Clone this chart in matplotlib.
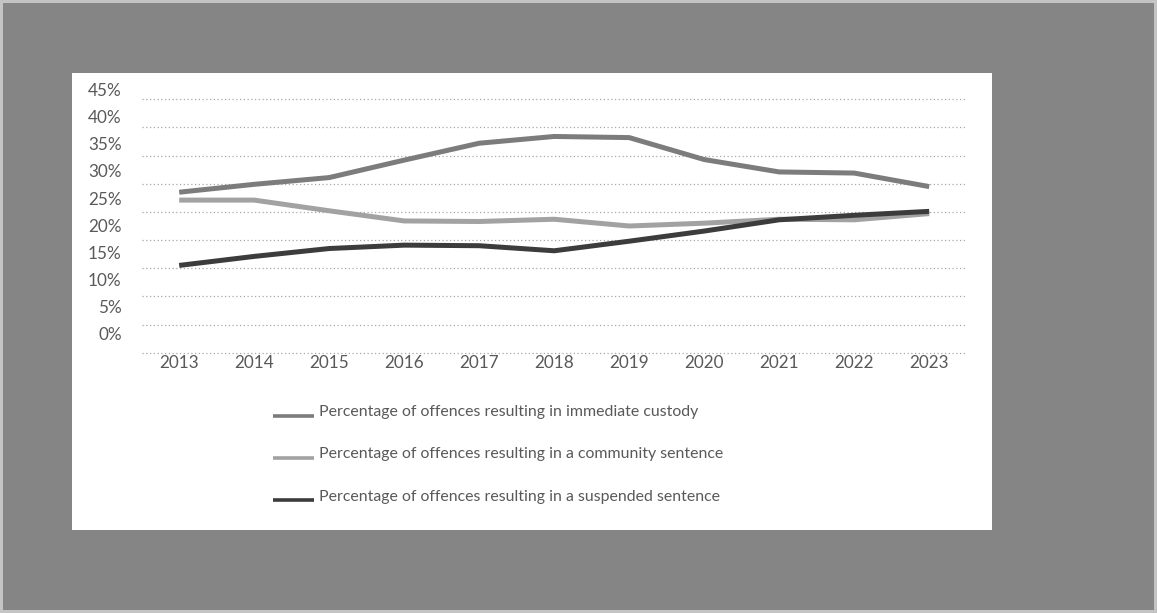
#!/usr/bin/env python3
# coding: utf-8

import matplotlib
matplotlib.use("Agg")
import matplotlib.pyplot as plt
import matplotlib.transforms as mtrans
from matplotlib.patches import Rectangle

years = ["2013", "2014", "2015", "2016", "2017", "2018",
         "2019", "2020", "2021", "2022", "2023"]
# percentages
custody = [28.5, 29.9, 31.1, 34.2, 37.2, 38.4, 38.2, 34.3, 32.1, 31.9, 29.5]
community = [27.1, 27.1, 25.2, 23.4, 23.3, 23.7, 22.5, 23.0, 23.7, 23.6, 24.7]
suspended = [15.5, 17.1, 18.5, 19.1, 19.0, 18.1, 19.8, 21.6, 23.6, 24.4, 25.1]

names = ["Percentage of offences resulting in immediate custody",
         "Percentage of offences resulting in a community sentence",
         "Percentage of offences resulting in a suspended sentence"]
y_ticks = [0, 5, 10, 15, 20, 25, 30, 35, 40, 45]
y_labels = ["0%", "5%", "10%", "15%", "20%", "25%", "30%", "35%", "40%", "45%"]

plt.rcParams['font.family'] = ['Lato', 'DejaVu Sans']

W, H = 1157, 613
fig = plt.figure(figsize=(W/100, H/100), dpi=100)
fig.patch.set_facecolor('#858585')
fig.patch.set_edgecolor('#c4c4c4')
fig.patch.set_linewidth(3)

# white chart panel on the grey page
fig.add_artist(Rectangle((72/W, 83/H), 920/W, 457/H, transform=fig.transFigure,
                         facecolor='white', edgecolor='none', zorder=0))

ax = fig.add_axes([141.7/W, 1-352.7/H, 825/W, 253.4/H])
ax.set_facecolor('none')

x = range(len(years))
ax.plot(x, custody, color='#7c7c7c', lw=3.6, label=names[0], solid_capstyle='butt')
ax.plot(x, community, color='#a2a2a2', lw=3.6, label=names[1], solid_capstyle='butt')
ax.plot(x, suspended, color='#3c3c3c', lw=3.6, label=names[2], solid_capstyle='butt')

ax.set_xlim(-0.5, len(years)-0.5)
ax.set_ylim(0, 45)
ax.set_xticks(list(x))
ax.set_xticklabels(years)
ax.set_yticks(y_ticks)
ax.set_yticklabels(y_labels)
ax.grid(axis='y', color='#a8a8a8', lw=0.9, ls=(0, (1, 2)))
for gl in ax.get_ygridlines():
    gl.set_clip_on(False)
ax.set_axisbelow(True)
for s in ax.spines.values():
    s.set_visible(False)
ax.tick_params(length=0, labelsize=12.3, labelcolor='#595959')
ax.tick_params(axis='x', pad=2)
ax.tick_params(axis='y', pad=14.4)

# in the original the % labels sit a bit above their gridlines
for v, lab in zip(y_ticks, ax.yaxis.get_majorticklabels()):
    dy = (10 + (45 - v)/45*8.7)/100
    lab.set_transform(lab.get_transform() + mtrans.ScaledTranslation(0, dy, fig.dpi_scale_trans))

leg = fig.legend(loc='upper left', bbox_to_anchor=(265/W, 1-397/H), frameon=False,
                 borderpad=0, handlelength=2.6, handletextpad=0.3, labelspacing=1.78,
                 fontsize=11.4, labelcolor='#595959')
# legend keys are thinner and sit on the text baseline
for hl in leg.get_lines():
    hl.set_linewidth(2.6)
    hl.set_transform(hl.get_transform() + mtrans.ScaledTranslation(0, -0.055, fig.dpi_scale_trans))

fig.savefig("out.png", dpi=100, facecolor=fig.get_facecolor(), edgecolor=fig.get_edgecolor())
